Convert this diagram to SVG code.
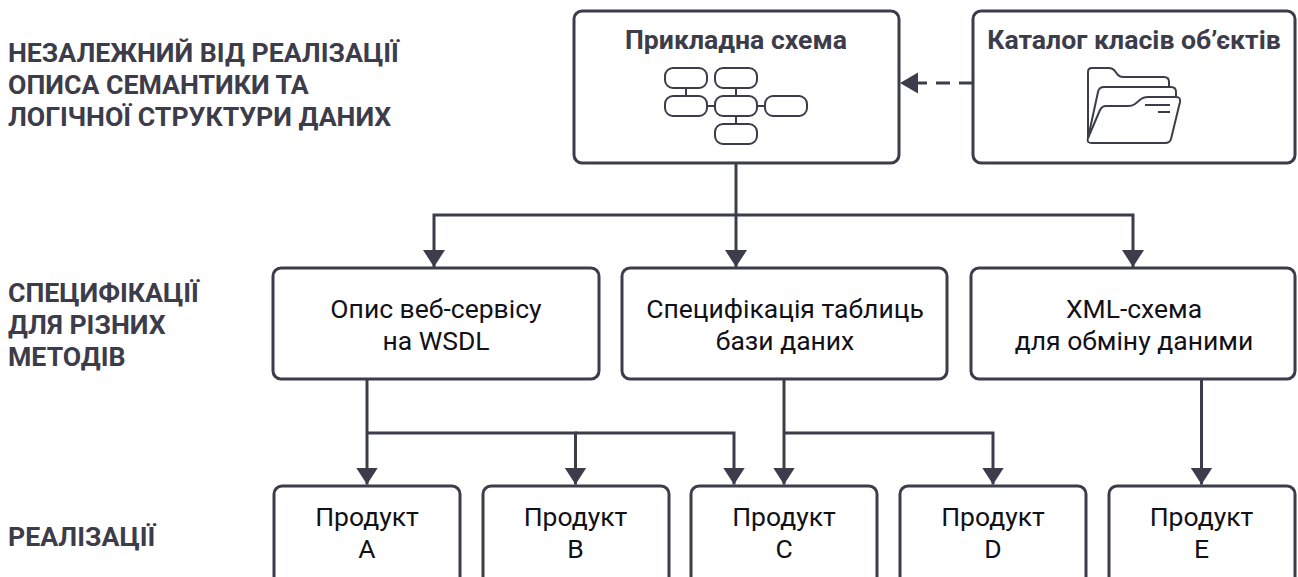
<svg xmlns="http://www.w3.org/2000/svg" width="1298" height="577" viewBox="0 0 1298 577">
<style>
text{font-family:Roboto,"Liberation Sans",sans-serif}
.b{fill:#fff;stroke:#3c3c4a;stroke-width:3}
.s{fill:none;stroke:#3c3c4a;stroke-width:2}
.c{fill:none;stroke:#3c3c4a;stroke-width:3}
.h{font-size:26.67px;font-weight:700;fill:#3c3c4a;text-anchor:middle}
.t{font-size:26.5px;fill:#111116;text-anchor:middle}
.l{font-size:26.7px;font-weight:700;fill:#3c3c4a}
</style>
<defs><marker id="a" markerUnits="userSpaceOnUse" markerWidth="18" markerHeight="23" refX="17" refY="11.5" orient="auto"><path d="M0 0.5L17 11.500L0 22.500Z" fill="#3c3c4a"/></marker></defs>
<g id="labels">
<text class="l" x="8" y="62">НЕЗАЛЕЖНИЙ ВІД РЕАЛІЗАЦІЇ</text>
<text class="l" x="8" y="94">ОПИСА СЕМАНТИКИ ТА</text>
<text class="l" x="8" y="126">ЛОГІЧНОЇ СТРУКТУРИ ДАНИХ</text>
<text class="l" x="8" y="302">СПЕЦИФІКАЦІЇ</text>
<text class="l" x="8" y="334">ДЛЯ РІЗНИХ</text>
<text class="l" x="8" y="366">МЕТОДІВ</text>
<text class="l" x="8" y="546">РЕАЛІЗАЦІЇ</text>
</g>
<g id="connectors">
<path class="c" d="M736 163V267" marker-end="url(#a)"/>
<path class="c" d="M736 215H434V267" marker-end="url(#a)"/>
<path class="c" d="M736 215H1133V267" marker-end="url(#a)"/>
<path class="c" d="M367 379V484.500" marker-end="url(#a)"/>
<path class="c" d="M367 433H575.500V484.500" marker-end="url(#a)"/>
<path class="c" d="M575 433H734V484.500" marker-end="url(#a)"/>
<path class="c" d="M784 379V484.500" marker-end="url(#a)"/>
<path class="c" d="M784 433H993V484.500" marker-end="url(#a)"/>
<path class="c" d="M1201.500 379V484.500" marker-end="url(#a)"/>
<path class="c" d="M973 83H917" stroke-dasharray="14 9"/>
<path d="M900 83L918 72.500V93.500Z" fill="#3c3c4a"/>
</g>
<g id="schema">
<rect class="b" x="574" y="11" width="325" height="152" rx="8"/>
<text class="h" x="736" y="49">Прикладна схема</text>
<rect class="s" x="665" y="68" width="42" height="20" rx="8"/>
<rect class="s" x="715" y="68" width="42" height="20" rx="8"/>
<rect class="s" x="665" y="96" width="42" height="20" rx="8"/>
<rect class="s" x="715" y="96" width="42" height="20" rx="8"/>
<rect class="s" x="765" y="96" width="42" height="20" rx="8"/>
<rect class="s" x="715" y="124" width="42" height="20" rx="8"/>
<path class="s" d="M686 88V96M736 88V96M707 106H715M757 106H765M736 116V124"/>
</g>
<g id="catalog">
<rect class="b" x="973" y="11" width="322" height="152" rx="8"/>
<text class="h" x="1134" y="49">Каталог класів об’єктів</text>
<path class="s" d="M1088 138V72Q1088 68 1092 68H1109Q1112 68 1114 70L1118 75Q1120 77 1123 77H1164Q1169 77 1169 82V87"/>
<path class="s" d="M1088 138L1098 92Q1099 87 1104 87H1171Q1176 87 1176 92V97"/>
<path class="s" d="M1088 138L1100 110Q1102 106 1106 106H1128Q1132 106 1135 104L1141 99Q1144 97 1148 97H1176Q1181 97 1180 102L1171 139Q1170 143 1165 143H1092Q1086 143 1088 138Z"/>
<path class="s" d="M1145 105H1170M1158 112H1170"/>
</g>
<g id="wsdl"><rect class="b" x="273" y="268" width="326" height="111" rx="8"/><text class="t" x="436" y="318">Опис веб-сервісу</text><text class="t" x="436" y="350">на WSDL</text></g>
<g id="tables"><rect class="b" x="622" y="268" width="325" height="111" rx="8"/><text class="t" x="785" y="318">Специфікація таблиць</text><text class="t" x="785" y="350">бази даних</text></g>
<g id="xml"><rect class="b" x="971" y="268" width="324" height="111" rx="8"/><text class="t" x="1134" y="318">XML-схема</text><text class="t" x="1134" y="350">для обміну даними</text></g>
<g id="pa"><rect class="b" x="274" y="486" width="186" height="100" rx="8"/><text class="t" x="367" y="526">Продукт</text><text class="t" x="367" y="558">A</text></g>
<g id="pb"><rect class="b" x="483" y="486" width="186" height="100" rx="8"/><text class="t" x="575.500" y="526">Продукт</text><text class="t" x="575.500" y="558">B</text></g>
<g id="pc"><rect class="b" x="691" y="486" width="186" height="100" rx="8"/><text class="t" x="784" y="526">Продукт</text><text class="t" x="784" y="558">C</text></g>
<g id="pd"><rect class="b" x="900" y="486" width="186" height="100" rx="8"/><text class="t" x="993" y="526">Продукт</text><text class="t" x="993" y="558">D</text></g>
<g id="pe"><rect class="b" x="1109" y="486" width="186" height="100" rx="8"/><text class="t" x="1201.500" y="526">Продукт</text><text class="t" x="1201.500" y="558">E</text></g>
</svg>
